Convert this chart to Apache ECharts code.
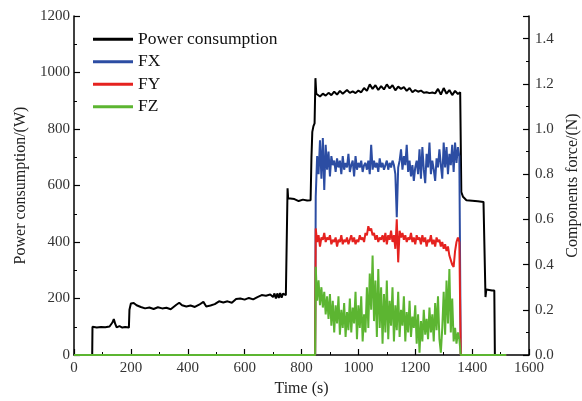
<!DOCTYPE html>
<html>
<head>
<meta charset="utf-8">
<script src="https://cdn.jsdelivr.net/npm/echarts@6/dist/echarts.min.js"></script>
<style>html,body{margin:0;padding:0;background:#fff;}#c{width:582px;height:401px;}</style>
</head>
<body>
<div id="c"></div>
<script>
// ---- Data ----
const seriesNames = ['Power consumption', 'FX', 'FY', 'FZ'];
const xTicks = [0, 200, 400, 600, 800, 1000, 1200, 1400, 1600];

const powerTime = [0, 64, 65, 80, 95, 110, 125, 135, 140, 145, 150, 160, 170, 180, 193, 195, 200, 210, 220, 235, 250, 265, 280, 295, 310, 325, 340, 350, 360, 370, 380, 395, 410, 425, 440, 455, 465, 480, 495, 510, 525, 540, 555, 570, 585, 600, 615, 630, 645, 660, 675, 690, 700, 705, 710, 715, 720, 725, 730, 735, 745, 750, 751, 753, 760, 775, 790, 805, 820, 832, 835, 838, 842, 846, 849, 852, 855, 865, 875, 885, 895, 905, 915, 925, 935, 945, 960, 970, 980, 990, 1000, 1010, 1020, 1030, 1040, 1050, 1060, 1070, 1080, 1090, 1100, 1110, 1120, 1130, 1140, 1150, 1160, 1170, 1180, 1190, 1200, 1210, 1220, 1230, 1240, 1250, 1260, 1270, 1280, 1290, 1300, 1310, 1320, 1330, 1340, 1350, 1358, 1360, 1362, 1368, 1380, 1400, 1420, 1440, 1445, 1447, 1450, 1460, 1470, 1478, 1480];
const powerValues = [0, 0, 100, 97, 99, 98, 101, 115, 127, 110, 98, 102, 97, 99, 97, 160, 182, 184, 176, 170, 165, 168, 163, 169, 165, 167, 162, 170, 178, 185, 176, 172, 175, 170, 178, 188, 172, 175, 180, 190, 186, 190, 185, 198, 200, 196, 202, 197, 205, 212, 210, 214, 205, 218, 200, 218, 202, 219, 203, 217, 212, 212, 590, 555, 548, 552, 545, 550, 547, 548, 700, 790, 810, 820, 980, 925, 922, 915, 925, 918, 928, 920, 932, 922, 935, 925, 938, 928, 933, 927, 936, 930, 945, 935, 958, 942, 955, 938, 952, 940, 958, 944, 955, 937, 950, 942, 948, 935, 945, 930, 938, 932, 936, 928, 930, 927, 929, 926, 942, 922, 945, 925, 938, 920, 935, 924, 930, 935, 577, 560, 548, 546, 544, 542, 540, 205, 232, 230, 228, 228, 0];

const forceTime = [0, 848, 850, 855, 860, 865, 870, 875, 880, 885, 890, 895, 900, 905, 910, 915, 920, 925, 930, 935, 940, 945, 950, 955, 960, 965, 970, 975, 980, 985, 990, 995, 1000, 1005, 1010, 1015, 1020, 1025, 1030, 1035, 1040, 1045, 1050, 1055, 1060, 1065, 1070, 1075, 1080, 1085, 1090, 1095, 1100, 1105, 1110, 1115, 1120, 1125, 1130, 1135, 1140, 1145, 1150, 1155, 1160, 1165, 1170, 1175, 1180, 1185, 1190, 1195, 1200, 1205, 1210, 1215, 1220, 1225, 1230, 1235, 1240, 1245, 1250, 1255, 1260, 1265, 1270, 1275, 1280, 1285, 1290, 1295, 1300, 1305, 1310, 1315, 1320, 1325, 1330, 1335, 1340, 1345, 1350, 1355, 1360, 1520];
const fxValues = [0, 0, 0.70, 0.88, 0.80, 0.95, 0.78, 0.96, 0.73, 0.93, 0.82, 0.90, 0.79, 0.88, 0.84, 0.86, 0.81, 0.87, 0.83, 0.86, 0.80, 0.88, 0.82, 0.85, 0.83, 0.89, 0.81, 0.84, 0.86, 0.79, 0.88, 0.82, 0.85, 0.83, 0.86, 0.81, 0.84, 0.85, 0.82, 0.86, 0.80, 0.93, 0.82, 0.86, 0.83, 0.85, 0.81, 0.87, 0.83, 0.85, 0.82, 0.84, 0.86, 0.82, 0.85, 0.83, 0.86, 0.84, 0.80, 0.61, 0.83, 0.86, 0.91, 0.82, 0.88, 0.84, 0.93, 0.81, 0.86, 0.79, 0.84, 0.77, 0.83, 0.86, 0.80, 0.91, 0.78, 0.92, 0.82, 0.76, 0.89, 0.83, 0.94, 0.80, 0.86, 0.82, 0.77, 0.87, 0.83, 0.91, 0.84, 0.78, 0.94, 0.83, 0.92, 0.80, 0.89, 0.84, 0.93, 0.81, 0.94, 0.85, 0.92, 0.88, 0, 0];
const fyValues = [0, 0, 0.56, 0.50, 0.53, 0.48, 0.52, 0.51, 0.54, 0.50, 0.52, 0.51, 0.53, 0.49, 0.51, 0.50, 0.52, 0.48, 0.51, 0.50, 0.53, 0.49, 0.51, 0.50, 0.52, 0.49, 0.51, 0.53, 0.50, 0.52, 0.49, 0.51, 0.50, 0.53, 0.51, 0.52, 0.50, 0.54, 0.53, 0.57, 0.55, 0.56, 0.53, 0.54, 0.51, 0.53, 0.50, 0.52, 0.51, 0.53, 0.50, 0.54, 0.49, 0.53, 0.51, 0.55, 0.50, 0.53, 0.47, 0.60, 0.41, 0.55, 0.52, 0.54, 0.51, 0.53, 0.50, 0.52, 0.51, 0.54, 0.50, 0.52, 0.49, 0.53, 0.51, 0.52, 0.49, 0.53, 0.50, 0.52, 0.48, 0.51, 0.50, 0.53, 0.49, 0.51, 0.48, 0.52, 0.50, 0.51, 0.48, 0.50, 0.47, 0.49, 0.46, 0.48, 0.44, 0.42, 0.40, 0.39, 0.46, 0.50, 0.52, 0.50, 0, 0];
const fzValues = [0, 0, 0.39, 0.24, 0.33, 0.22, 0.30, 0.21, 0.28, 0.18, 0.26, 0.16, 0.27, 0.13, 0.24, 0.10, 0.22, 0.14, 0.26, 0.09, 0.20, 0.12, 0.23, 0.08, 0.19, 0.11, 0.25, 0.10, 0.21, 0.14, 0.28, 0.07, 0.22, 0.12, 0.26, 0.06, 0.18, 0.10, 0.30, 0.12, 0.36, 0.20, 0.44, 0.15, 0.33, 0.08, 0.38, 0.12, 0.30, 0.05, 0.27, 0.10, 0.33, 0.07, 0.24, 0.13, 0.30, 0.06, 0.22, 0.11, 0.28, 0.08, 0.20, 0.13, 0.26, 0.06, 0.19, 0.10, 0.24, 0.08, 0.17, 0.12, 0.22, 0.05, 0.18, 0.01, 0.15, 0.06, 0.20, 0.09, 0.16, 0.07, 0.21, 0.10, 0.18, 0.06, 0.23, 0.11, 0.26, 0.07, 0.01, 0.12, 0.28, 0.09, 0.33, 0.14, 0.38, 0.10, 0.25, 0.06, 0.12, 0.05, 0.10, 0.07, 0, 0];

const colors = ['#000000', '#2c4da3', '#e5221f', '#5cb531'];

function pairs(t, v) { return t.map((x, i) => [x, v[i]]); }

const font = 'Liberation Serif';
const axisLineStyle = { color: '#000', width: 1.5 };
const tickStyle = { inside: true, length: 6, lineStyle: { color: '#000', width: 1.2 } };
const minorStyle = { show: true, splitNumber: 2, length: 3, lineStyle: { color: '#000', width: 1 } };

const chart = echarts.init(document.getElementById('c'), null, { renderer: 'canvas' });
chart.setOption({
  animation: false,
  backgroundColor: '#fff',
  grid: { left: 74, right: 53, top: 16, bottom: 46, containLabel: false, outerBoundsMode: 'none' },
  legend: {
    data: seriesNames,
    orient: 'vertical',
    left: 88,
    top: 23,
    itemWidth: 40,
    itemHeight: 3,
    itemGap: 0,
    icon: 'rect',
    textStyle: { fontFamily: font, fontSize: 17.5, color: '#111', lineHeight: 22.5 }
  },
  xAxis: {
    type: 'value',
    min: 0, max: 1600, interval: 200,
    name: 'Time (s)', nameLocation: 'middle', nameGap: 24,
    nameTextStyle: { fontFamily: font, fontSize: 16, color: '#222' },
    axisLine: { lineStyle: axisLineStyle },
    axisTick: Object.assign({ show: true }, tickStyle),
    minorTick: minorStyle,
    axisLabel: { fontFamily: font, fontSize: 15, color: '#333', margin: 6,
      formatter: v => xTicks.indexOf(v) >= 0 ? String(v) : '' },
    splitLine: { show: false }
  },
  yAxis: [{
    type: 'value',
    min: 0, max: 1200, interval: 200,
    name: 'Power consumption/(W)', nameLocation: 'middle', nameGap: 32,
    nameTextStyle: { fontFamily: font, fontSize: 16, color: '#222' },
    axisLine: { show: true, lineStyle: axisLineStyle },
    axisTick: Object.assign({ show: true }, tickStyle),
    minorTick: minorStyle,
    axisLabel: { fontFamily: font, fontSize: 15, color: '#333', margin: 4, formatter: v => String(v) },
    splitLine: { show: false }
  }, {
    type: 'value',
    min: 0, max: 1.5, interval: 0.2,
    position: 'right',
    name: 'Components force/(N)', nameLocation: 'middle', nameGap: 30,
    nameRotate: 90,
    nameTextStyle: { fontFamily: font, fontSize: 16, color: '#222' },
    axisLine: { show: true, lineStyle: axisLineStyle },
    axisTick: Object.assign({ show: true }, tickStyle),
    minorTick: minorStyle,
    axisLabel: { fontFamily: font, fontSize: 15, color: '#333', margin: 6, showMaxLabel: false,
      formatter: v => v.toFixed(1) },
    splitLine: { show: false }
  }],
  series: [
    { name: seriesNames[0], type: 'line', yAxisIndex: 0, data: pairs(powerTime, powerValues),
      showSymbol: false, lineStyle: { color: colors[0], width: 2 }, itemStyle: { color: colors[0] } },
    { name: seriesNames[1], type: 'line', yAxisIndex: 1, data: pairs(forceTime, fxValues),
      showSymbol: false, lineStyle: { color: colors[1], width: 2 }, itemStyle: { color: colors[1] } },
    { name: seriesNames[2], type: 'line', yAxisIndex: 1, data: pairs(forceTime, fyValues),
      showSymbol: false, lineStyle: { color: colors[2], width: 2 }, itemStyle: { color: colors[2] } },
    { name: seriesNames[3], type: 'line', yAxisIndex: 1, data: pairs(forceTime, fzValues),
      showSymbol: false, lineStyle: { color: colors[3], width: 2 }, itemStyle: { color: colors[3] } }
  ]
});
</script>
</body>
</html>
